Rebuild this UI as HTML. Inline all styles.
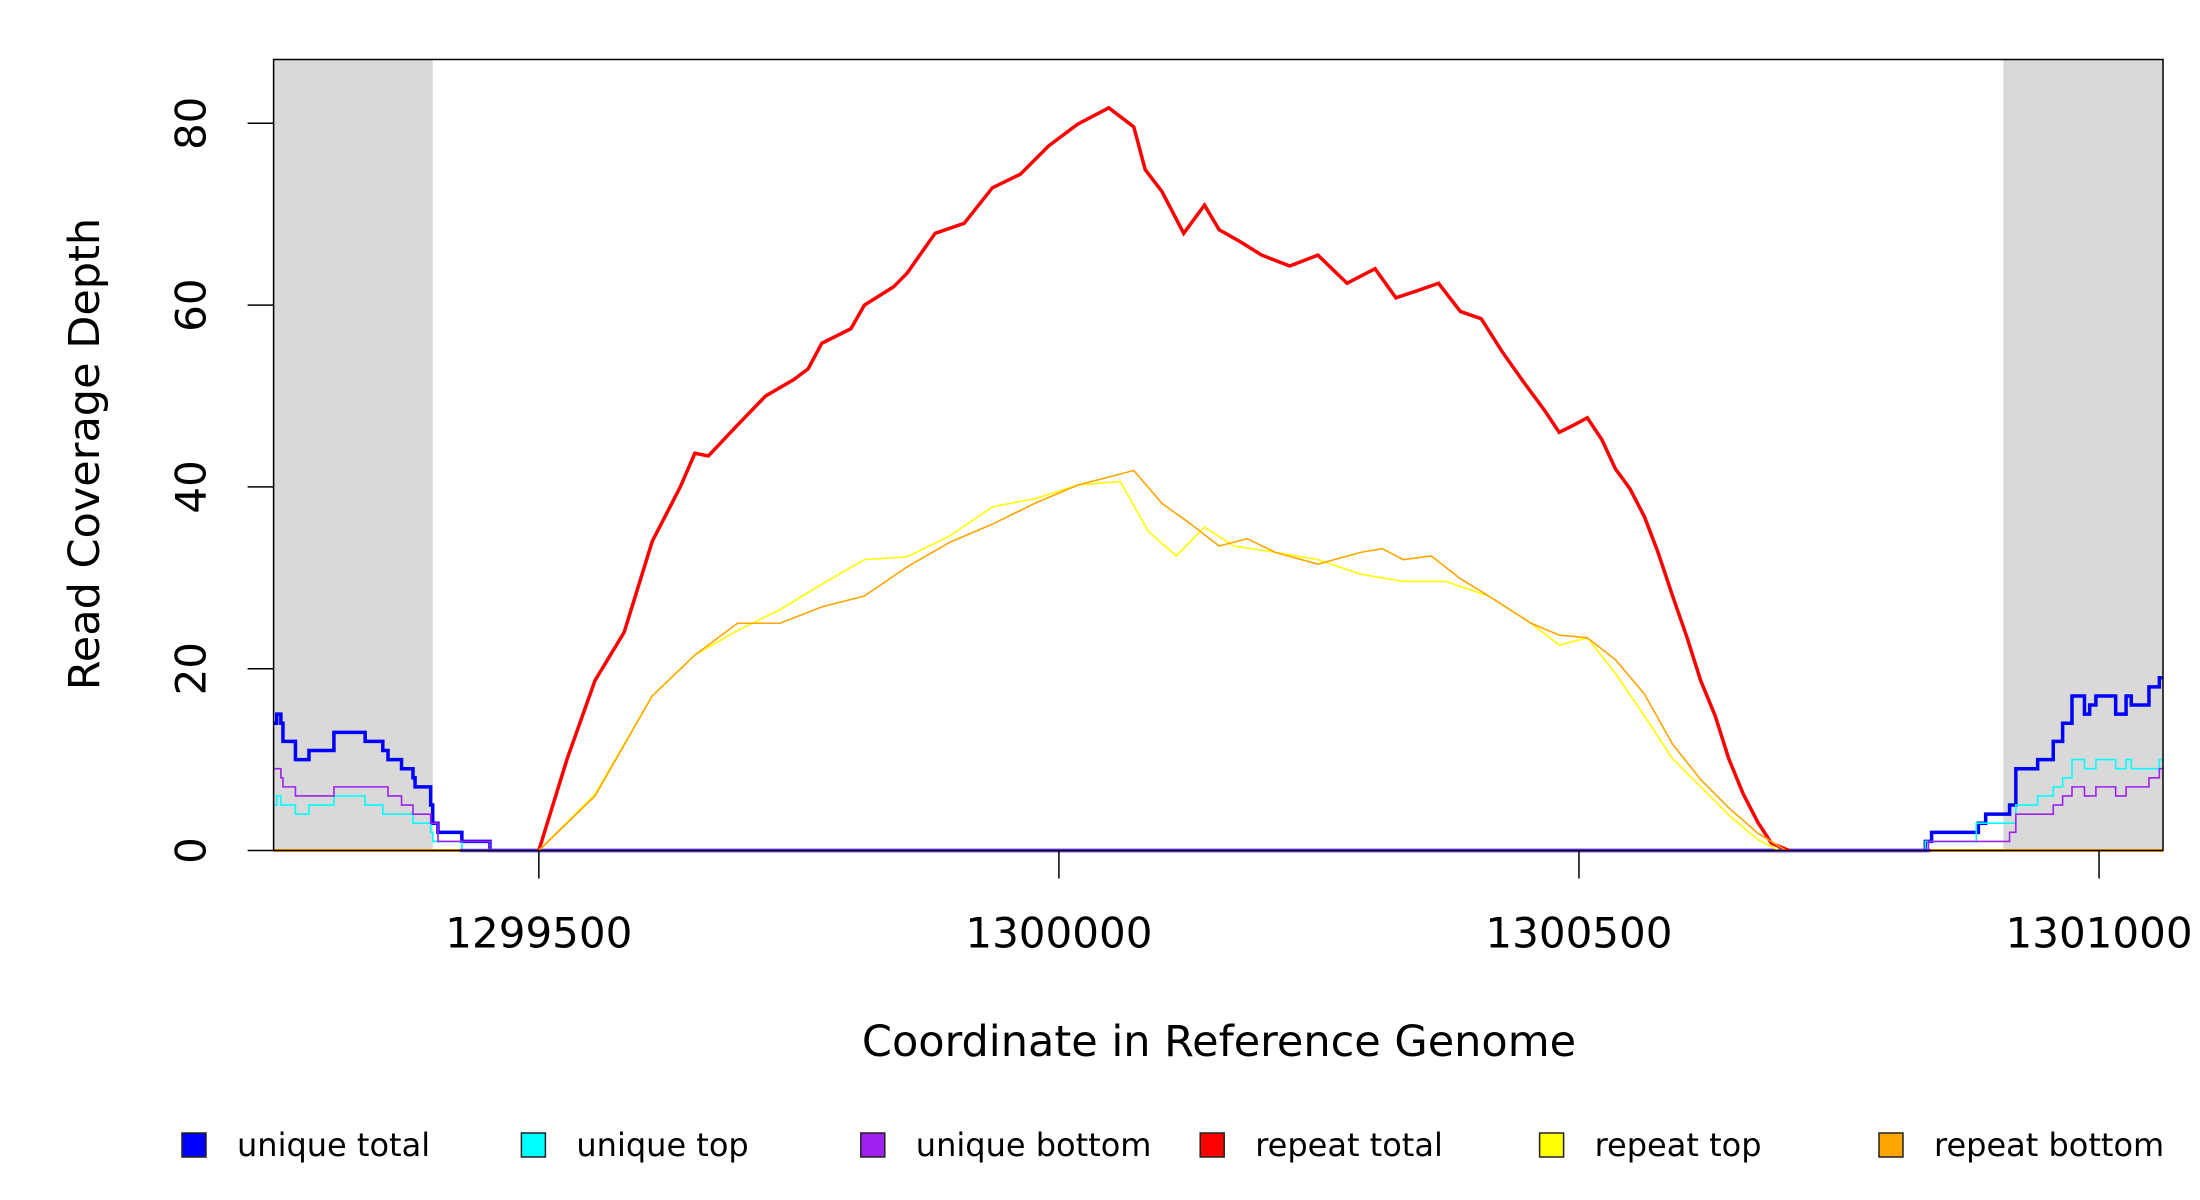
<!DOCTYPE html>
<html><head><meta charset="utf-8"><style>
html,body{margin:0;padding:0;background:#fff}
svg{display:block;font-family:"DejaVu Sans","Liberation Sans",sans-serif}
</style></head><body>
<svg id="chart" width="2200" height="1200" viewBox="0 0 2200 1200" xmlns="http://www.w3.org/2000/svg">
<g id="bg"></g>
<g id="series"></g>
<g id="axes"></g>
<text x="1219" y="1042" font-size="43" text-anchor="middle" dominant-baseline="central">Coordinate in Reference Genome</text>
<text x="85" y="454" font-size="43" text-anchor="middle" dominant-baseline="central" transform="rotate(-90 85 454)">Read Coverage Depth</text>
<g id="legend"></g>
</svg>
<script>
// ---- data ----
const xDomain = [1299245, 1301061.5];
const yTicks = [0, 20, 40, 60, 80];
const xTicks = [1299500, 1300000, 1300500, 1301000];
const xTickLabels = ["1299500", "1300000", "1300500", "1301000"];
const shadedRegions = [[1299245, 1299398], [1300908, 1301061.5]];

const uniqueTotalX = [1299245,1299248,1299252,1299254,1299266,1299279,1299303,1299333,1299350,1299355,1299368,1299379,1299381,1299396,1299398,1299403,1299426,1299453,1300833,1300839,1300884,1300891,1300914,1300920,1300941,1300956,1300965,1300974,1300986,1300991,1300997,1301016,1301026,1301031,1301048,1301058,1301061.5];
const uniqueTotalY = [14,15,14,12,10,11,13,12,11,10,9,8,7,5,3,2,1,0,1,2,3,4,5,9,10,12,14,17,15,16,17,15,17,16,18,19,19];

const uniqueTopX = [1299245,1299248,1299252,1299266,1299279,1299303,1299333,1299350,1299379,1299396,1299398,1299426,1300833,1300882,1300920,1300941,1300956,1300965,1300974,1300986,1300997,1301016,1301026,1301031,1301058,1301061.5];
const uniqueTopY = [5,6,5,4,5,6,5,4,3,2,1,0,1,3,5,6,7,8,10,9,10,9,10,9,10,10];

const uniqueBottomX = [1299245,1299252,1299254,1299266,1299303,1299355,1299368,1299379,1299396,1299403,1299453,1300836,1300914,1300920,1300956,1300965,1300974,1300986,1300997,1301016,1301026,1301041,1301048,1301058,1301061.5];
const uniqueBottomY = [9,8,7,6,7,6,5,4,3,1,0,1,2,4,5,6,7,6,7,6,7,7,8,9,9];

const repeatTotalX = [1299500,1299527,1299554,1299582,1299609,1299636,1299650,1299663,1299691,1299718,1299745,1299759,1299772,1299800,1299813,1299841,1299854,1299881,1299909,1299936,1299963,1299990,1300018,1300048,1300072,1300083,1300099,1300120,1300140,1300154,1300174,1300195,1300222,1300249,1300277,1300304,1300324,1300345,1300365,1300386,1300406,1300426,1300447,1300467,1300481,1300495,1300508,1300522,1300535,1300549,1300563,1300576,1300590,1300604,1300617,1300631,1300644,1300658,1300672,1300685,1300702];
const repeatTotalY = [0,10,18.7,24,34,40,43.7,43.4,46.8,50,51.8,53,55.8,57.4,60,62,63.5,67.9,69,72.9,74.4,77.5,79.9,81.7,79.6,74.9,72.5,67.9,71,68.3,67,65.5,64.3,65.5,62.4,64,60.8,61.6,62.4,59.3,58.5,54.9,51.5,48.4,46,46.8,47.6,45.2,42,39.8,36.7,32.8,28,23.4,18.7,14.8,10.1,6.2,3.1,0.8,0];

const repeatTopX = [1299500,1299554,1299609,1299650,1299691,1299732,1299772,1299813,1299854,1299895,1299936,1299977,1300018,1300059,1300086,1300113,1300140,1300168,1300208,1300249,1300290,1300331,1300372,1300413,1300454,1300481,1300508,1300535,1300563,1300590,1300617,1300644,1300672,1300692];
const repeatTopY = [0,6.2,17,21.5,24.2,26.5,29.3,32,32.3,34.6,37.8,38.7,40.2,40.6,35.1,32.4,35.6,33.5,32.8,32,30.4,29.6,29.6,28,25,22.6,23.4,19.5,14.8,10.1,7,3.9,1.2,0];

const repeatBottomX = [1299500,1299554,1299609,1299650,1299691,1299732,1299772,1299813,1299854,1299895,1299936,1299977,1300018,1300072,1300099,1300127,1300154,1300181,1300208,1300249,1300290,1300311,1300331,1300358,1300386,1300413,1300454,1300481,1300508,1300535,1300563,1300590,1300617,1300644,1300672,1300699];
const repeatBottomY = [0,6,17,21.5,25,25,26.8,28,31.2,33.9,35.9,38.2,40.2,41.8,38.2,35.9,33.5,34.3,32.8,31.5,32.8,33.2,32,32.4,29.9,28,25,23.7,23.4,21,17.2,11.7,7.8,4.7,1.9,0];

const repeatZeroRanges = [[1299245, 1299424], [1300838, 1301061.5]];

const legendLabels = ["unique total","unique top","unique bottom","repeat total","repeat top","repeat bottom"];
const legendColors = ["#0000ff","#00ffff","#a020f0","#ff0000","#ffff00","#ffa500"];

// ---- scales ----
const PL = 273.6, PR = 2163, PT = 59.5, PB = 850.5, Y80 = 123.3;
function xs(v){ return PL + (v - xDomain[0]) * (PR - PL) / (xDomain[1] - xDomain[0]); }
function ys(v){ return PB - v * (PB - Y80) / 80; }
const NS = "http://www.w3.org/2000/svg";
function mk(tag, attrs, parent){ const e = document.createElementNS(NS, tag); for (const k in attrs) e.setAttribute(k, attrs[k]); parent.appendChild(e); return e; }

const bg = document.getElementById('bg');
shadedRegions.forEach(r => {
  const e = mk('rect', {x: xs(r[0]), y: PT, width: xs(r[1]) - xs(r[0]), height: PB - PT, fill: '#d9d9d9'}, bg);
  
  
});

const sg = document.getElementById('series');
function stepPath(X, Y){ let d = 'M' + xs(X[0]) + ' ' + ys(Y[0]); for (let i = 1; i < X.length; i++){ d += 'H' + xs(X[i]) + 'V' + ys(Y[i]); } return d; }
function linePath(X, Y){ return X.map((x, i) => (i ? 'L' : 'M') + xs(x) + ' ' + ys(Y[i])).join(''); }
function drawSeries(d, color, w, name){
  const p = mk('path', {d: d, fill: 'none', stroke: color, 'stroke-width': w, 'stroke-linejoin': 'miter'}, sg);
  
  
}
// repeat-series baselines in flank regions
repeatZeroRanges.forEach(r => {
  const e = mk('line', {x1: xs(r[0]), x2: xs(r[1]), y1: ys(0), y2: ys(0), stroke: '#ffa500', 'stroke-width': 3}, sg);
  
  
});
drawSeries(stepPath(uniqueTotalX, uniqueTotalY), '#0000ff', 3.5, 'unique-total-line');
drawSeries(stepPath(uniqueTopX, uniqueTopY), '#00ffff', 1.6, 'unique-top-line');
drawSeries(stepPath(uniqueBottomX, uniqueBottomY), '#a020f0', 1.6, 'unique-bottom-line');
{
  const e = mk('line', {x1: xs(1299424), x2: xs(1300838), y1: ys(0), y2: ys(0), stroke: '#6a3cf0', 'stroke-width': 3.5}, sg);
  
  
}
drawSeries(linePath(repeatTotalX, repeatTotalY), '#ff0000', 3.5, 'repeat-total-line');
drawSeries(linePath(repeatTopX, repeatTopY), '#ffff00', 1.6, 'repeat-top-line');
drawSeries(linePath(repeatBottomX, repeatBottomY), '#ffa500', 1.6, 'repeat-bottom-line');

// ---- axes ----
const ax = document.getElementById('axes');
{
  const b = mk('rect', {x: PL, y: PT, width: PR - PL, height: PB - PT, fill: 'none', stroke: '#000', 'stroke-width': 1.5}, ax);
  
  
}
yTicks.forEach(t => {
  const y = ys(t);
  const l = mk('line', {x1: PL - 26, x2: PL, y1: y, y2: y, stroke: '#000', 'stroke-width': 1.5}, ax);
  
  
  const tx = mk('text', {x: 191, y: y, 'font-size': 42, 'text-anchor': 'middle', 'dominant-baseline': 'central', transform: 'rotate(-90 191 ' + y + ')'}, ax);
  tx.textContent = String(t);
  
  
});
xTicks.forEach((t, i) => {
  const x = xs(t);
  const l = mk('line', {x1: x, x2: x, y1: PB, y2: PB + 28, stroke: '#000', 'stroke-width': 1.5}, ax);
  
  
  const tx = mk('text', {x: x, y: 933, 'font-size': 42, 'text-anchor': 'middle', 'dominant-baseline': 'central'}, ax);
  tx.textContent = xTickLabels[i];
  
  
});

// ---- legend ----
const lg = document.getElementById('legend');
legendLabels.forEach((lab, i) => {
  const x0 = 182 + i * 339.4;
  const r = mk('rect', {x: x0, y: 1133, width: 24, height: 24, fill: legendColors[i], stroke: '#222', 'stroke-width': 1.5}, lg);
  
  
  const t = mk('text', {x: x0 + 55, y: 1145, 'font-size': 32, 'dominant-baseline': 'central'}, lg);
  t.textContent = lab;
  
  
});
</script>
</body></html>
